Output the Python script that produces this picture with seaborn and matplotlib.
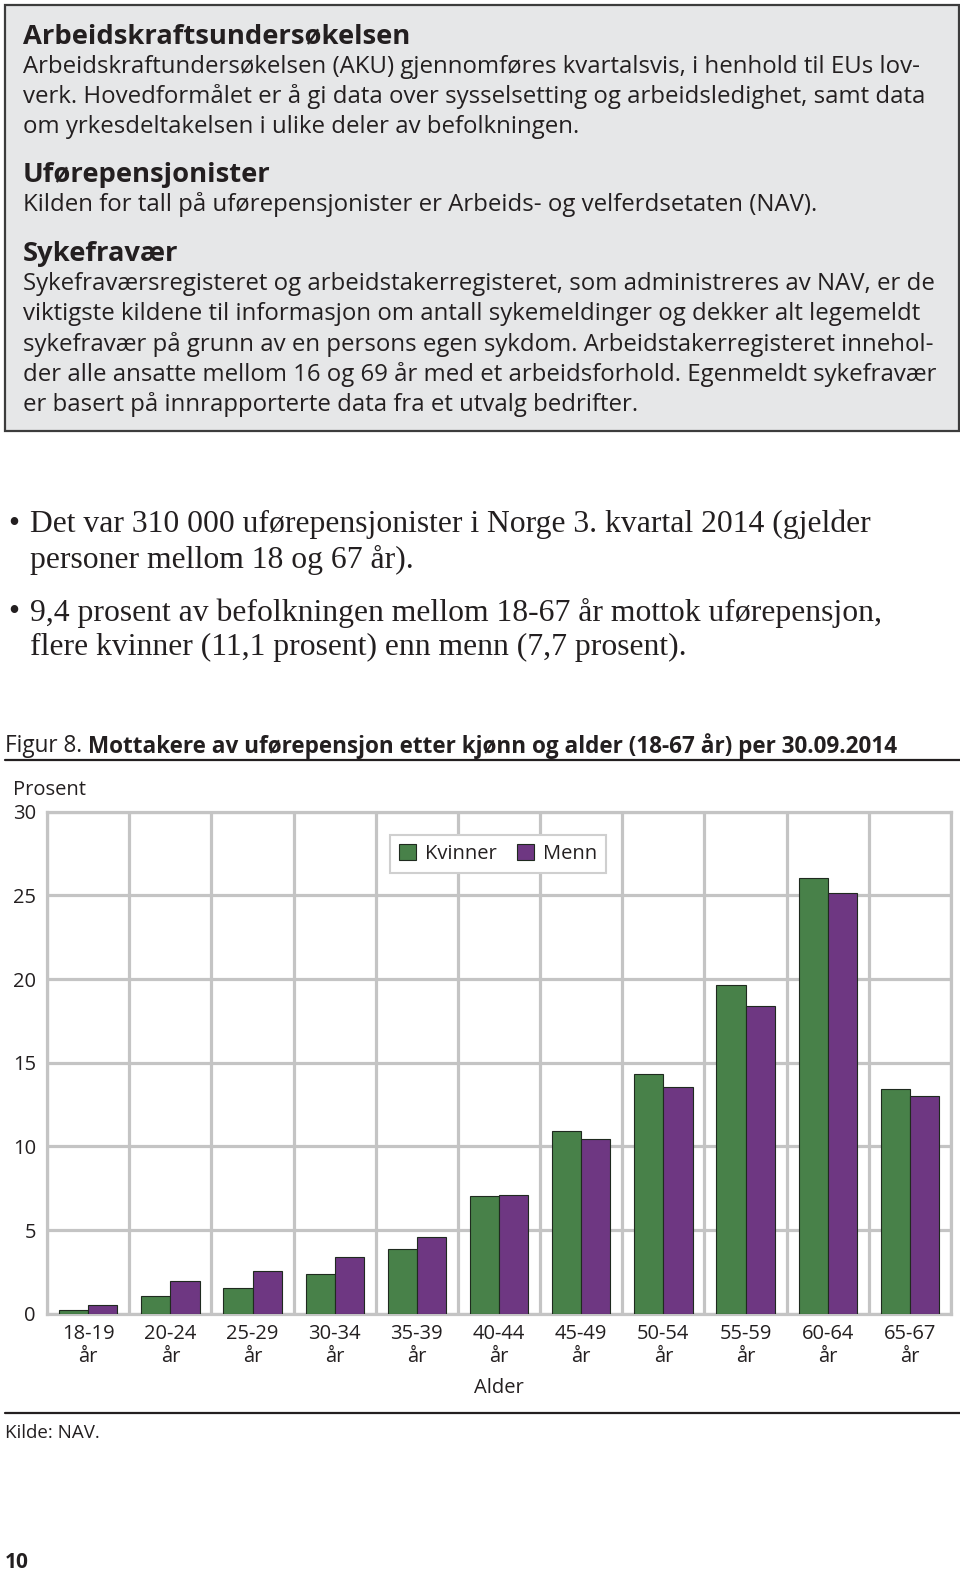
import numpy as np
import pandas as pd
import matplotlib
matplotlib.use("Agg")
import matplotlib.pyplot as plt
import seaborn as sns
from matplotlib.patches import Rectangle
from matplotlib.lines import Line2D

# ---------------- data ----------------
age_groups = ["18-19\når", "20-24\når", "25-29\når", "30-34\når", "35-39\når", "40-44\når",
              "45-49\når", "50-54\når", "55-59\når", "60-64\når", "65-67\når"]
kvinner = [0.23, 1.04, 1.56, 2.35, 3.84, 7.04, 10.92, 14.33, 19.64, 26.06, 13.43]
menn = [0.51, 1.94, 2.54, 3.37, 4.56, 7.12, 10.45, 13.56, 18.36, 25.16, 13.03]
series_names = ["Kvinner", "Menn"]
y_ticks = [0, 5, 10, 15, 20, 25, 30]

box_blocks = [
    ("Arbeidskraftsundersøkelsen", [
        "Arbeidskraftundersøkelsen (AKU) gjennomføres kvartalsvis, i henhold til EUs lov-",
        "verk. Hovedformålet er å gi data over sysselsetting og arbeidsledighet, samt data",
        "om yrkesdeltakelsen i ulike deler av befolkningen."]),
    ("Uførepensjonister", [
        "Kilden for tall på uførepensjonister er Arbeids- og velferdsetaten (NAV)."]),
    ("Sykefravær", [
        "Sykefraværsregisteret og arbeidstakerregisteret, som administreres av NAV, er de",
        "viktigste kildene til informasjon om antall sykemeldinger og dekker alt legemeldt",
        "sykefravær på grunn av en persons egen sykdom. Arbeidstakerregisteret innehol-",
        "der alle ansatte mellom 16 og 69 år med et arbeidsforhold. Egenmeldt sykefravær",
        "er basert på innrapporterte data fra et utvalg bedrifter."]),
]
bullets = [
    ["Det var 310 000 uførepensjonister i Norge 3. kvartal 2014 (gjelder",
     "personer mellom 18 og 67 år)."],
    ["9,4 prosent av befolkningen mellom 18-67 år mottok uførepensjon,",
     "flere kvinner (11,1 prosent) enn menn (7,7 prosent)."],
]
fig_label = "Figur 8."
fig_title = "Mottakere av uførepensjon etter kjønn og alder (18-67 år) per 30.09.2014"
y_label = "Prosent"
x_label = "Alder"
source = "Kilde: NAV."
page_no = "10"

# ---------------- styling ----------------
W, H = 960, 1572
S = 960 / 958  # positions were measured on a 958-wide preview
GREEN = "#3f8a40"
PURPLE = "#742b8e"
GRID = "#c4c4c4"
TXT = "#231f20"
DY = 2.5  # text centre offset

sns.set_theme(style="white")
plt.rcParams["font.family"] = ["Open Sans", "DejaVu Sans"]
plt.rcParams["text.color"] = TXT

fig = plt.figure(figsize=(W / 100, H / 100), dpi=100)
renderer = fig.canvas.get_renderer()


def fx(x):
    return x * S / W


def fy(y):
    return 1 - y * S / H


def fit_size(s, width, **kw):
    t = fig.text(0, 0, s, fontsize=20, **kw)
    w = t.get_window_extent(renderer).width
    t.remove()
    return 20 * width * S / w


def txt(x, y, s, **kw):
    kw.setdefault("va", "center")
    kw.setdefault("ha", "left")
    return fig.text(fx(x), fy(y + DY), s, **kw)


# gray info box
fig.patches.append(Rectangle((fx(5), fy(430)), fx(957) - fx(5), fy(5) - fy(430),
                             transform=fig.transFigure, facecolor="#e6e7e8",
                             edgecolor="#3c3c3c", lw=1.6, zorder=0))

body_size = fit_size(box_blocks[0][1][0], 892)
head_size = fit_size(box_blocks[0][0], 386, weight="bold")
head_y = [34, 172, 251]
for (head, lines), hy in zip(box_blocks, head_y):
    txt(23, hy, head, fontsize=head_size, weight="bold")
    for i, line in enumerate(lines):
        txt(23, hy + 30 * (i + 1), line, fontsize=body_size)

# bullets
serif = ["Liberation Serif", "DejaVu Serif"]
bsize = fit_size(bullets[0][0], 838, family=serif)
bullet_y = [521, 609]
for lines, by in zip(bullets, bullet_y):
    txt(8, by, "•", fontsize=bsize, family=serif)
    for i, line in enumerate(lines):
        txt(30, by + 35 * i, line, fontsize=bsize, family=serif)

# figure title
tsize = fit_size(fig_title, 810, weight="bold")
txt(5, 742, fig_label, fontsize=tsize)
txt(88, 742, fig_title, fontsize=tsize, weight="bold")

fig.lines.append(Line2D([fx(5), 1], [fy(758), fy(758)], transform=fig.transFigure,
                        color=TXT, lw=1.6))
fig.lines.append(Line2D([fx(5), 1], [fy(1410), fy(1410)], transform=fig.transFigure,
                        color=TXT, lw=1.6))

# ---------------- chart ----------------
ax = fig.add_axes([fx(47), fy(1311), fx(949) - fx(47), fy(810) - fy(1311)])
df = pd.DataFrame({
    "Alder": age_groups * 2,
    "Kjønn": [series_names[0]] * len(age_groups) + [series_names[1]] * len(age_groups),
    "Prosent": kvinner + menn,
})
sns.barplot(data=df, x="Alder", y="Prosent", hue="Kjønn", palette=[GREEN, PURPLE],
            width=0.71, edgecolor="#1f2a1f", linewidth=0.8, ax=ax, zorder=3)

ax.set_xlim(-0.5, len(age_groups) - 0.5)
ax.set_ylim(0, 30)
ax.set_yticks(y_ticks)
ax.set_yticklabels([str(v) for v in y_ticks])
ax.set_xticks(np.arange(-0.5, len(age_groups), 1), minor=True)
ax.grid(which="major", axis="y", color=GRID, lw=2.3)
ax.grid(which="minor", axis="x", color=GRID, lw=2.3)
ax.grid(which="major", axis="x", visible=False)
ax.set_axisbelow(True)
for sp in ax.spines.values():
    sp.set_color(GRID)
    sp.set_linewidth(2.3)
ax.tick_params(which="both", length=0)
ax.tick_params(axis="y", labelsize=14.5, pad=8, colors=TXT)
ax.tick_params(axis="x", labelsize=14.5, pad=7.5, colors=TXT)
for lab in ax.get_xticklabels():
    lab.set_linespacing(1.22)
ax.set_xlabel("")
ax.set_ylabel("")

handles, labels = ax.get_legend_handles_labels()
leg = ax.legend(handles, labels, loc="center", bbox_to_anchor=(fx(497), fy(852)),
                bbox_transform=fig.transFigure, ncol=2, frameon=True, fancybox=False,
                edgecolor="#cfcfcf", framealpha=1, fontsize=14.5, handlelength=0.85,
                handleheight=0.85, columnspacing=1.0, handletextpad=0.45, borderpad=0.45)
leg.get_frame().set_linewidth(1.5)

txt(13, 786, y_label, fontsize=14.5)
txt(498, 1383, x_label, fontsize=14.5, ha="center")
txt(5, 1428, source, fontsize=13.5)
txt(5, 1557, page_no, fontsize=15, weight="bold")

fig.savefig("out.png", dpi=100)
